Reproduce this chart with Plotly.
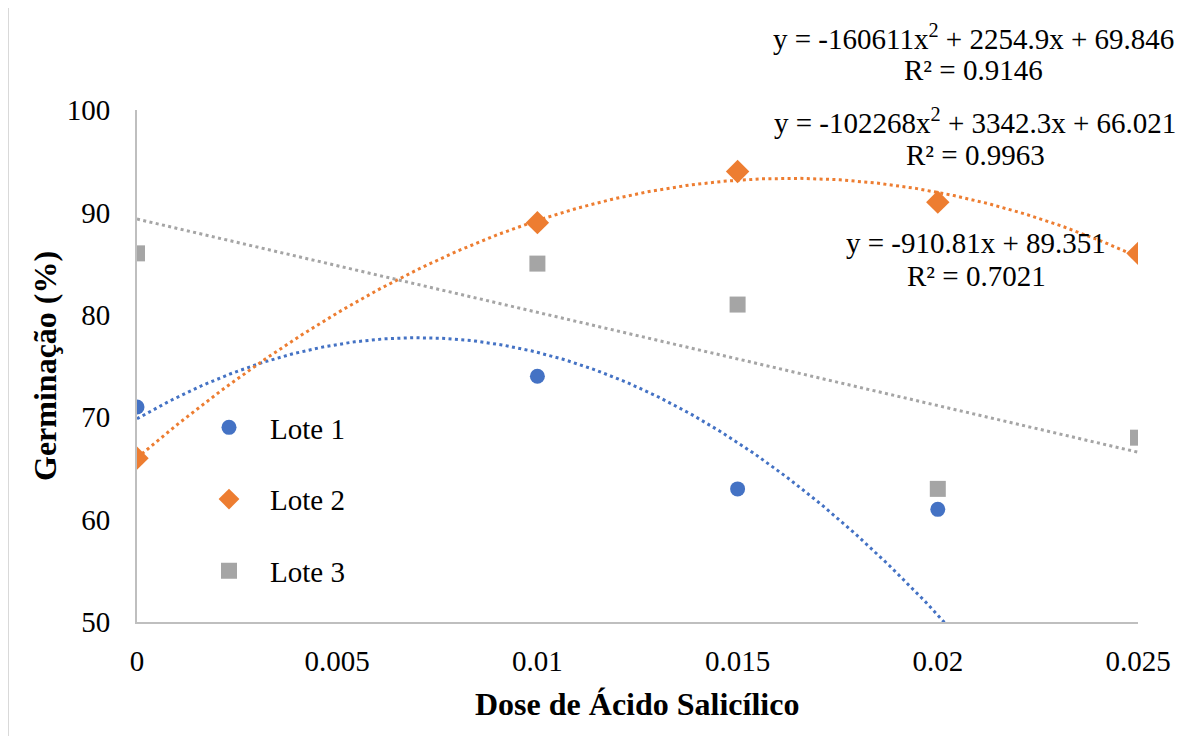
import numpy as np
import plotly.graph_objects as go

# ---- data ----
doses = [0, 0.01, 0.015, 0.02, 0.025]
lote1 = [71, 74, 63, 61, 21]   # last point falls below the axis minimum (hidden)
lote2 = [66, 89, 94, 91, 86]
lote3 = [86, 85, 81, 63, 68]

# trendline coefficients (highest power first), as displayed
coef1 = [-160611, 2254.9, 69.846]
coef2 = [-102268, 3342.3, 66.021]
coef3 = [-910.81, 89.351]

eq1 = ["y = -160611x<sup>2</sup> + 2254.9x + 69.846", "R² = 0.9146"]
eq2 = ["y = -102268x<sup>2</sup> + 3342.3x + 66.021", "R² = 0.9963"]
eq3 = ["y = -910.81x + 89.351", "R² = 0.7021"]

x_ticks = [0, 0.005, 0.01, 0.015, 0.02, 0.025]
x_tick_text = ["0", "0.005", "0.01", "0.015", "0.02", "0.025"]
y_ticks = [50, 60, 70, 80, 90, 100]

names = ["Lote 1", "Lote 2", "Lote 3"]
colors = ["#4472C4", "#ED7D31", "#A5A5A5"]
symbols = ["circle", "diamond", "square"]
sizes = [15, 18, 16]

FONT = "Liberation Serif, Times New Roman, serif"
FS = 29
FS_TITLE = 32

fig = go.Figure()
xs = np.linspace(0, 0.025, 300)
for coef, col in zip([coef1, coef2, coef3], colors):
    fig.add_trace(go.Scatter(x=xs, y=np.polyval(coef, xs), mode="lines",
                             line=dict(color=col, width=3, dash="3px,3.4px"),
                             showlegend=False, hoverinfo="skip"))
for name, ys, col, sym, sz in zip(names, [lote1, lote2, lote3], colors, symbols, sizes):
    fig.add_trace(go.Scatter(x=doses, y=ys, mode="markers", name=name,
                             legendgroup=name,
                             marker=dict(color=col, symbol=sym, size=sz, line=dict(width=0))))

# page offset of the figure inside the page (body margin)
OFF = 8
# plot area in screen pixels: left 137, right 1138, top 110, bottom 622
L, R, T, B = 137, 1138, 110, 622
W, H = R - L, B - T
def px(xp):
    return (xp - L) / W
def py(yp):
    return (B - yp) / H

ann = []
for lines, cx, ys in [(eq1, 973, (37, 70)), (eq2, 975, (121, 155)), (eq3, 976, (243, 276))]:
    for txt, yy in zip(lines, ys):
        ann.append(dict(text=txt, x=px(cx), y=py(yy), xref="paper", yref="paper",
                        showarrow=False, xanchor="center", yanchor="middle",
                        font=dict(family=FONT, size=FS, color="black")))
ann.append(dict(text="<b>Dose de Ácido Salicílico</b>", x=px(637), y=py(704),
                xref="paper", yref="paper", showarrow=False, xanchor="center", yanchor="middle",
                font=dict(family=FONT, size=FS_TITLE, color="black")))
ann.append(dict(text="<b>Germinação (%)</b>", x=px(45), y=py(366), textangle=-90,
                xref="paper", yref="paper", showarrow=False, xanchor="center", yanchor="middle",
                font=dict(family=FONT, size=FS_TITLE, color="black")))

shapes = [
    dict(type="line", xref="paper", yref="paper", x0=px(8), x1=px(1220), y0=py(7), y1=py(7),
         line=dict(color="#D9D9D9", width=2)),
    dict(type="line", xref="paper", yref="paper", x0=px(8), x1=px(8), y0=py(7), y1=py(760),
         line=dict(color="#D9D9D9", width=2)),
]

fig.update_layout(
    width=1200, height=736,
    margin=dict(l=L - OFF, r=1200 - (R - OFF), t=T - OFF, b=736 - (B - OFF)),
    paper_bgcolor="white", plot_bgcolor="white",
    font=dict(family=FONT, size=FS, color="black"),
    annotations=ann, shapes=shapes,
    legend=dict(x=px(188), y=py(402), xanchor="left", yanchor="top",
                bgcolor="rgba(0,0,0,0)", tracegroupgap=31, itemwidth=72,
                font=dict(family=FONT, size=FS, color="black")),
    xaxis=dict(range=[0, 0.025], tickvals=x_ticks, ticktext=x_tick_text,
               showgrid=False, zeroline=False, showline=True, linecolor="#BFBFBF", linewidth=2,
               ticks="", ticklabelstandoff=12, tickfont=dict(family=FONT, size=FS, color="black")),
    yaxis=dict(range=[50, 100], tickvals=y_ticks,
               showgrid=False, zeroline=False, showline=True, linecolor="#BFBFBF", linewidth=2,
               ticks="", ticklabelstandoff=19, tickfont=dict(family=FONT, size=FS, color="black")),
)

fig.write_html("out.html")
